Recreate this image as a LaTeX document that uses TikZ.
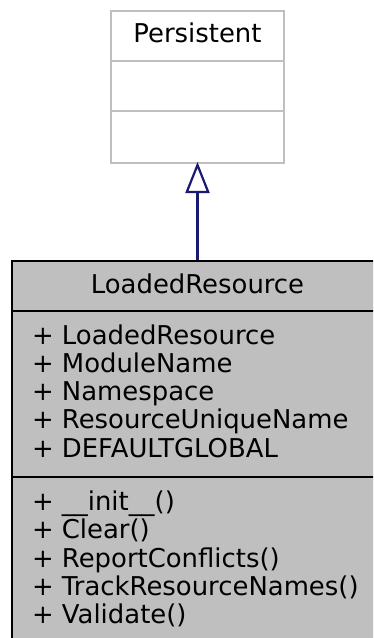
\documentclass[tikz,border=0pt]{standalone}
\usepackage{fontspec}
\setmainfont{DejaVu Sans}
\usetikzlibrary{positioning, arrows.meta}
\definecolor{dxgray}{HTML}{BFBFBF}
\definecolor{dxblue}{HTML}{191970}

\begin{document}
\begin{tikzpicture}[x=1pt, y=-1pt, font=\fontsize{25.9}{28.3}\selectfont,
    basebox/.style={draw=dxgray, fill=white, line width=2pt, inner sep=0pt},
    classbox/.style={draw=black, fill=dxgray, line width=2pt, inner sep=0pt},
    members/.style={anchor=base west, inner sep=0pt}]
    \useasboundingbox (0,0) rectangle (373,638);
    \clip (0,0) rectangle (373,638);
    % klasa bazowa
    \node[basebox, minimum width=173.6pt, minimum height=152pt, anchor=north]
      (persistent) at (197.5,10) {};
    \draw[dxgray, line width=2pt]
      (110.7,60.7) -- (284.3,60.7) (110.7,111) -- (284.3,111);
    \node[inner sep=0pt] (persistentname) at (197.5,32.5) {Persistent};
    % klasa pochodna
    \node[classbox, minimum width=371pt, minimum height=384pt, anchor=north]
      (loaded) at (197.5,260) {};
    \draw[black, line width=2pt]
      (12,311) -- (383,311) (12,477) -- (383,477);
    \node[inner sep=0pt] (loadedname) at (197.5,283.8) {LoadedResource};
    % atrybuty
    \foreach \txt [count=\i] in {LoadedResource, ModuleName, Namespace,
        ResourceUniqueName, DEFAULTGLOBAL}
      \node[members] (attr\i) at (31.8,{344+(\i-1)*28.3}) {+ \txt};
    % metody
    \foreach \txt [count=\i] in {\_\_init\_\_(), Clear(), ReportConflicts(),
        TrackResourceNames(), Validate()}
      \node[members] (meth\i) at (31.8,{510.5+(\i-1)*28.3}) {+ \txt};
    % dziedziczenie
    \draw[dxblue, line width=2.2pt, shorten >=-2pt,
        -{Triangle[open, width=24pt, length=31pt]}]
      (loaded.north) -- (persistent.south);
\end{tikzpicture}
\end{document}
